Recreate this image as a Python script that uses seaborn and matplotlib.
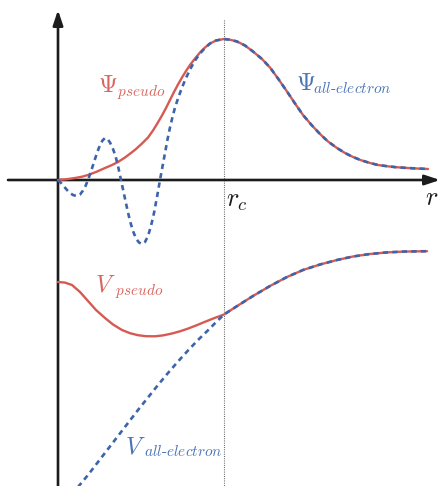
import matplotlib
matplotlib.use("Agg")
import matplotlib.pyplot as plt
import seaborn as sns
import pandas as pd

# Radial coordinate (arbitrary units, origin on the vertical axis); cutoff radius r_c
r_cut = 166

# Wavefunctions inside the cutoff
r_psi_pseudo = [0, 8, 17, 24, 30, 38, 47, 54, 60, 67, 73, 78, 84, 90, 95, 99, 104, 108,
                112, 116, 120, 124, 128, 132, 137, 142, 147, 152, 158, 166]
psi_pseudo_in = [0, 0.7, 2, 3.3, 5, 8, 12, 15, 18, 22.5, 27, 31, 36.5, 42.5, 49.5, 56,
                 64.5, 72, 80, 88, 95.5, 102.5, 109, 115, 121.5, 127.5, 132.5, 136.5, 139.5, 141]

r_psi_ae = [0, 3, 6, 9, 12, 15, 18.5, 22, 25, 27.5, 30, 33, 36, 39, 42, 44.5, 47, 49.5,
            52, 55, 57.5, 60, 63, 66, 69, 72, 75, 78, 81, 84, 87, 90, 93, 96, 99, 102,
            104.5, 107, 109.5, 112, 114.5, 117, 120.5, 124, 128, 132, 137, 142, 147,
            152, 158, 166]
psi_ae_in = [0, -3, -6.5, -10, -13, -15, -16, -14.5, -10.5, -6, 0, 8.5, 18, 27, 35, 39.5,
             42, 41, 37.5, 31, 24, 14, 0, -14, -28, -41, -51, -58.5, -62.5, -64, -62,
             -56, -46, -33, -17, 0, 13.5, 27, 40.5, 52.5, 63, 72.5, 83, 92.5, 102, 110.5,
             119.5, 126.5, 132, 136.5, 139.5, 141]

# Wavefunction beyond the cutoff (both curves coincide)
r_psi_out = [172, 179, 187, 195, 204, 212, 220, 229, 237, 245, 254, 262, 270, 279, 287,
             295, 303, 312, 320, 329, 337, 345, 357, 370]
psi_out = [140.3, 138.5, 134.5, 128.5, 121, 112.5, 101.5, 88.5, 76.5, 65, 54.5, 46, 38.5,
           32, 27, 23, 19.8, 17, 15, 13.8, 12.9, 12.3, 11.6, 11]

# Potentials inside the cutoff
r_v_pseudo = [0, 7, 14, 22, 30, 38, 47, 55, 64, 72, 80, 88, 97, 105, 114, 122, 130, 138,
              147, 156, 166]
v_pseudo_in = [-102, -102.6, -105, -112, -121, -130, -138, -144.5, -150, -153.2, -155.2,
               -156.2, -156.3, -155.4, -153.5, -151.3, -148.6, -145.5, -141.8, -138.2, -134.5]

r_v_ae = [20, 30, 40, 50, 60, 70, 80, 90, 100, 110, 120, 130, 140, 150, 158, 166]
v_ae_in = [-307, -295, -282, -269, -256, -243, -230, -217.5, -205, -193, -181.5, -170.5,
           -160, -150.3, -142.2, -134.5]

# Potentials beyond the cutoff (both curves coincide)
r_v_out = [180, 195, 212, 229, 245, 262, 279, 295, 312, 329, 345, 369]
v_out = [-125.5, -116, -106, -97, -90, -84.5, -80, -76.5, -74, -72.4, -71.6, -71.2]

RED = "#d65a52"
BLUE = "#3d64aa"
RED_TXT = "#d9665f"
BLUE_TXT = "#4a74b6"
AXIS = "#1c1c1c"

sns.set_theme(style="white")
plt.rcParams["mathtext.fontset"] = "cm"

fig = plt.figure(figsize=(4.41, 4.86), dpi=100)
ax = fig.add_axes([0, 0, 1, 1])
ax.set_xlim(-58, 383)
ax.set_ylim(-306, 180)
ax.set_axis_off()


def curve(r_in, y_in, r_out, y_out, name):
    return pd.DataFrame({"r": list(r_in) + list(r_out),
                         "y": list(y_in) + list(y_out),
                         "curve": name})


df_psi_ps = curve(r_psi_pseudo, psi_pseudo_in, r_psi_out, psi_out, "psi_pseudo")
df_psi_ae = curve(r_psi_ae, psi_ae_in, r_psi_out, psi_out, "psi_ae")
df_v_ps = curve(r_v_pseudo, v_pseudo_in, r_v_out, v_out, "v_pseudo")
df_v_ae = curve(r_v_ae, v_ae_in, r_v_out, v_out, "v_ae")

# cutoff marker
ax.plot([r_cut, r_cut], [160, -306], color="#555555", lw=0.8,
        linestyle=(0, (0.8, 1.2)), zorder=1)

# axes with arrow heads
arrow = dict(arrowstyle="-|>,head_length=0.9,head_width=0.3", lw=1.9,
             color=AXIS, mutation_scale=10, shrinkA=0, shrinkB=0)
ax.annotate("", xy=(382, 0), xytext=(-50, 0), arrowprops=arrow, zorder=2)
ax.annotate("", xy=(0, 170), xytext=(0, -312), arrowprops=arrow, zorder=2)

# pseudo (solid red) first, all-electron (dashed blue) on top
for df in (df_psi_ps, df_v_ps):
    sns.lineplot(data=df, x="r", y="y", ax=ax, color=RED, lw=1.7,
                 sort=False, estimator=None, zorder=3)
for df in (df_psi_ae, df_v_ae):
    sns.lineplot(data=df, x="r", y="y", ax=ax, color=BLUE, lw=1.9,
                 linestyle=(0, (2.0, 1.6)), sort=False, estimator=None, zorder=4)

BIG = 17.5
SUB = 11


def label(x, y, sym, xs, ys, sub, color):
    ax.text(x, y, sym, fontsize=BIG, color=color, ha="left", va="baseline")
    ax.text(xs, ys, sub, fontsize=SUB, color=color, ha="left", va="baseline")


label(40, 88, r"$\Psi$", 59, 84, r"$pseudo$", RED_TXT)
label(238, 90, r"$\Psi$", 255, 87, r"$all\text{-}electron$", BLUE_TXT)
label(37, -112, r"$V$", 57, -115, r"$pseudo$", RED_TXT)
label(67, -273, r"$V$", 86, -276, r"$all\text{-}electron$", BLUE_TXT)

ax.text(168, -27, r"$r_c$", fontsize=19, color=AXIS, ha="left", va="baseline")
ax.text(367, -25, r"$r$", fontsize=19, color=AXIS, ha="left", va="baseline")

fig.savefig("out.png", dpi=100, facecolor="white")
